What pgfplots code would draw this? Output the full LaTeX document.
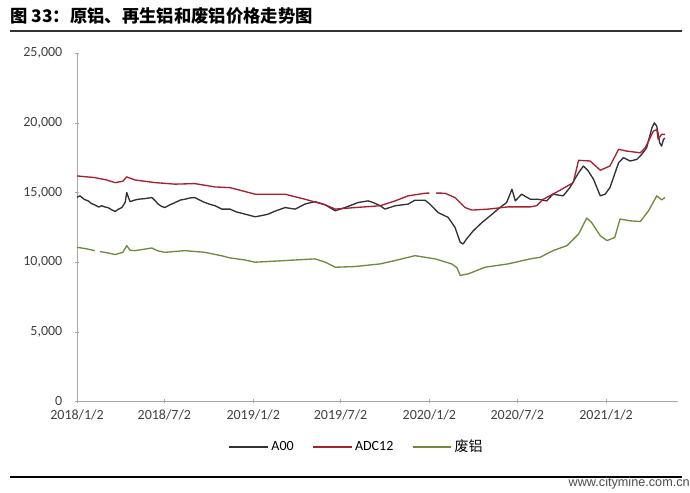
\documentclass[border=0pt]{standalone}
\usepackage{fontspec}
\setmainfont{Carlito}
\newfontfamily\cjk{Noto Sans CJK SC}
\usepackage{pgfplots}
\pgfplotsset{compat=1.18}
\definecolor{cA}{HTML}{2F3135}
\definecolor{cB}{HTML}{A8202C}
\definecolor{cC}{HTML}{6E8B3D}
\definecolor{tick}{HTML}{404040}
\begin{document}
\begin{tikzpicture}[x=0.75pt,y=0.75pt]
\path (0,0) rectangle (690,493);
\node[anchor=west,inner sep=0] at (10,477) {\fontsize{13}{15}\selectfont\cjk\bfseries 图 33：原铝、再生铝和废铝价格走势图};
\draw[line width=1.4pt, draw=black!80] (10,462) -- (682,462);
\draw[line width=0.9pt, draw=black] (10,16) -- (682,16);
\node[anchor=east,inner sep=0,text=black!70] at (690,10) {\fontsize{9.5}{11}\selectfont\fontspec{Liberation Sans}www.citymine.com.cn};
\begin{axis}[
  at={(57.75pt,68.625pt)}, anchor=south west, scale only axis,
  width=450.75pt, height=261.4pt,
  xmin=0, xmax=1245, ymin=0, ymax=25000,
  axis x line=bottom, axis y line=left,
  axis line style={draw=black!35, -},
  xtick={0,181,365,546,730,912,1096},
  xticklabels={2018/1/2,2018/7/2,2019/1/2,2019/7/2,2020/1/2,2020/7/2,2021/1/2},
  ytick={0,5000,10000,15000,20000,25000},
  scaled y ticks=false,
  /pgf/number format/1000 sep={,},
  /pgf/number format/assume math mode=true,
  tick label style={font=\fontsize{10.5}{12}\selectfont, text=tick},
  xticklabel style={yshift=-1pt},
  yticklabel style={xshift=-6pt},
  tick style={draw=black!35},
  major tick length=3pt,
  unbounded coords=jump,
  legend style={at={(0.466,-0.1306)}, anchor=center, draw=none, fill=none,
    legend columns=3, font=\fontsize{10.5}{12}\selectfont,
    /tikz/every even column/.append style={column sep=12pt}},
  legend image code/.code={\draw[mark repeat=2,mark phase=2,#1] plot coordinates {(0pt,0pt) (14.5pt,0pt) (29pt,0pt)};},
  every axis plot/.append style={line width=1pt, line join=round},
]
\addplot[cA] coordinates {
(0,14650) (6,14750) (15,14500) (23,14390) (30,14200) (37,14100) (45,13950) (51,14040) (58,13950) (64,13910) (72,13750) (79,13630) (86,13800) (93,13910) (100,14300) (103,14990) (107,14600) (110,14340) (120,14450) (127,14510) (140,14550) (155,14630) (162,14400) (168,14160) (175,14000) (182,13910) (192,14100) (203,14270) (214,14450) (224,14510) (234,14600) (244,14630) (254,14450) (265,14270) (275,14150) (286,14040) (300,13800) (317,13800) (330,13600) (348,13440) (369,13250) (385,13350) (396,13440) (410,13650) (431,13910) (452,13800) (472,14160) (493,14340) (514,14110) (535,13680) (555,13910) (582,14270) (603,14390) (615,14250) (628,14040) (638,13800) (659,14040) (686,14160) (700,14440) (721,14440) (731,14160) (748,13560) (769,13200) (783,12490) (794,11410) (800,11300) (807,11660) (821,12250) (839,12840) (856,13320) (876,13910) (890,14270) (901,15230) (908,14390) (921,14870) (939,14510) (955,14510) (973,14390) (986,14870) (1007,14750) (1021,15340) (1039,16410) (1049,16890) (1059,16540) (1070,15940) (1084,14750) (1094,14870) (1104,15340) (1122,17130) (1132,17490) (1146,17250) (1160,17370) (1170,17730) (1180,18200) (1191,19630) (1196,19990) (1201,19750) (1207,18560) (1211,18320) (1215,18800) (1218,18900)
};
\addlegendentry{A00}
\addplot[cB] coordinates {
(0,16180) (37,16060) (60,15900) (79,15700) (95,15800) (103,16110) (120,15890) (162,15700) (203,15590) (244,15630) (286,15390) (317,15340) (369,14870) (431,14870) (472,14510) (514,14110) (535,13800) (576,13910) (628,14040) (659,14390) (686,14750) (721,14940) (730,14950) (736,nan) (744,14950) (762,14940) (783,14630) (804,13910) (818,13730) (852,13800) (893,13960) (939,13960) (952,14040) (966,14510) (1001,15160) (1028,15700) (1039,17300) (1063,17250) (1084,16590) (1104,16890) (1122,18090) (1139,17960) (1167,17840) (1177,18200) (1194,19390) (1201,19510) (1204,18800) (1211,19160) (1218,19160)
};
\addlegendentry{ADC12}
\addplot[cC] coordinates {
(0,11060) (20,10950) (37,10820) (41,nan) (48,10750) (65,10650) (79,10540) (95,10700) (103,11180) (110,10850) (120,10820) (155,11010) (168,10800) (182,10700) (224,10820) (265,10700) (300,10450) (317,10300) (348,10150) (369,9990) (431,10110) (493,10230) (514,10000) (535,9630) (576,9680) (628,9870) (659,10110) (700,10460) (742,10230) (776,9870) (787,9600) (794,9040) (811,9160) (845,9630) (893,9870) (939,10230) (959,10340) (986,10820) (1015,11180) (1039,12010) (1056,13160) (1066,12840) (1084,11890) (1098,11540) (1114,11770) (1125,13090) (1146,12960) (1167,12910) (1184,13680) (1201,14750) (1211,14460) (1218,14630)
};
\addlegendentry{\cjk 废铝}
\end{axis}
\end{tikzpicture}
\end{document}
